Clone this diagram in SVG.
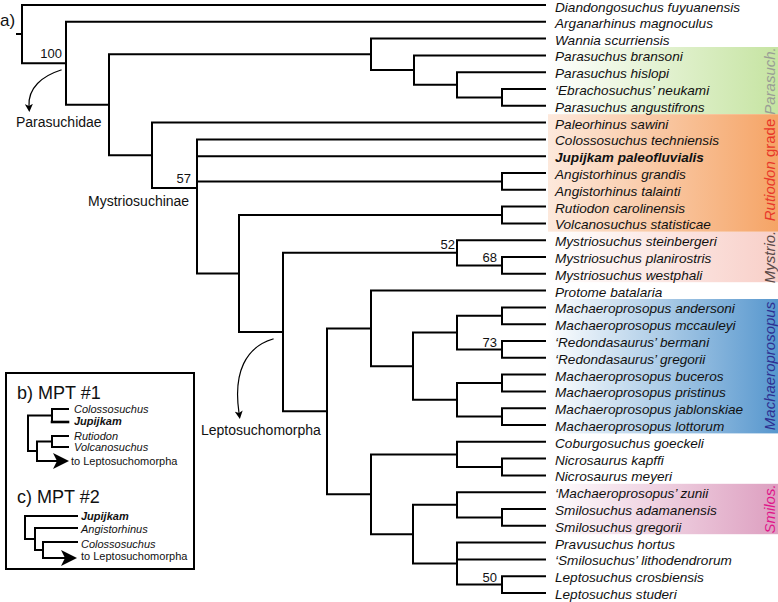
<svg xmlns="http://www.w3.org/2000/svg" width="778" height="602" viewBox="0 0 778 602">
<style>
.br{stroke:#000;stroke-width:2;fill:none;stroke-linecap:square}
.thin{stroke:#000;stroke-width:1.2;fill:none}
.tx{font-family:"Liberation Sans",Arial,sans-serif;font-size:13.6px;font-style:italic;fill:#111}
.bd{font-weight:bold}
.sp{font-family:"Liberation Sans",Arial,sans-serif;font-size:13px;fill:#111;text-anchor:end}
.lb{font-family:"Liberation Sans",Arial,sans-serif;font-size:14px;fill:#111}
.it{font-family:"Liberation Sans",Arial,sans-serif;font-size:11px;font-style:italic;fill:#111}
.up{font-family:"Liberation Sans",Arial,sans-serif;font-size:11px;fill:#111}
.hd{font-family:"Liberation Sans",Arial,sans-serif;font-size:18px;fill:#111}
.cl{font-family:"Liberation Sans",Arial,sans-serif;font-size:15px;font-style:italic;text-anchor:middle}
</style>
<defs>
<linearGradient id="gG" x1="0" x2="1" y1="0" y2="0"><stop offset="0" stop-color="#ffffff"/><stop offset="1" stop-color="#c6e4a2"/></linearGradient>
<linearGradient id="gO" x1="0" x2="1" y1="0" y2="0"><stop offset="0" stop-color="#fde9dc"/><stop offset="1" stop-color="#f5a466"/></linearGradient>
<linearGradient id="gP" x1="0" x2="1" y1="0" y2="0"><stop offset="0" stop-color="#ffffff"/><stop offset="1" stop-color="#f8cfc8"/></linearGradient>
<linearGradient id="gB" x1="0" x2="1" y1="0" y2="0"><stop offset="0" stop-color="#ffffff"/><stop offset="1" stop-color="#5797ce"/></linearGradient>
<linearGradient id="gS" x1="0" x2="1" y1="0" y2="0"><stop offset="0" stop-color="#ffffff"/><stop offset="1" stop-color="#dd9fc0"/></linearGradient>
<marker id="big" viewBox="0 0 16 16" refX="4" refY="8" markerWidth="16" markerHeight="16" markerUnits="userSpaceOnUse" orient="auto"><path d="M16,8 L0,0 L4,8 L0,16 Z" fill="#000"/></marker>
<marker id="sm" viewBox="0 0 8 8" refX="2" refY="4" markerWidth="8" markerHeight="8" markerUnits="userSpaceOnUse" orient="auto"><path d="M8,4 L0,0 L2,4 L0,8 Z" fill="#000"/></marker>
</defs>
<rect width="778" height="602" fill="#fff"/>

<!-- clade boxes -->
<g id="clades">
<rect x="548" y="47" width="230" height="67.2" fill="url(#gG)"/>
<rect x="548" y="114.2" width="230" height="117.6" fill="url(#gO)"/>
<rect x="548" y="231.8" width="230" height="50.4" fill="url(#gP)"/>
<rect x="548" y="299" width="230" height="134.4" fill="url(#gB)"/>
<rect x="548" y="483.8" width="230" height="50.4" fill="url(#gS)"/>
<text class="cl" transform="translate(775,81) rotate(-90)" fill="#9a9d96">Parasuch.</text>
<text class="cl" transform="translate(775,170) rotate(-90)" fill="#e8382a">Rutiodon<tspan font-style="normal"> grade</tspan></text>
<text class="cl" transform="translate(775,257) rotate(-90)" fill="#5a4a48">Mystrio.</text>
<text class="cl" transform="translate(775,366) rotate(-90)" fill="#2e3192">Machaeroprosopus</text>
<text class="cl" transform="translate(775,509) rotate(-90)" fill="#e0168a">Smilos.</text>
</g>

<g id="connectors" class="br">
<path d="M17,34 H22 M22,5 V63.3 M22,5 H545 M22,63.3 H66"/>
<path d="M66,21.8 V104.8 M66,21.8 H545 M66,104.8 H109"/>
<path d="M109,54.35 V155.3 M109,54.35 H371 M109,155.3 H152"/>
<path d="M371,38.6 V70.1 M371,38.6 H545 M371,70.1 H414"/>
<path d="M414,55.4 V84.8 M414,55.4 H545 M414,84.8 H457"/>
<path d="M457,72.2 V97.4 M457,72.2 H545 M457,97.4 H502"/>
<path d="M502,89 V105.8 M502,89 H545 M502,105.8 H545"/>
<path d="M152,122.6 V188 M152,122.6 H545 M152,188 H197"/>
<path d="M197,139.4 V273.5 M197,139.4 H545 M197,156.2 H545 M197,181.4 H502 M197,273.5 H239"/>
<path d="M502,173 V189.8 M502,173 H545 M502,189.8 H545"/>
<path d="M239,215 V332 M239,215 H502 M239,332 H283"/>
<path d="M502,206.6 V223.4 M502,206.6 H545 M502,223.4 H545"/>
<path d="M283,252.8 V411.35 M283,252.8 H457 M283,411.35 H327"/>
<path d="M457,240.2 V265.4 M457,240.2 H545 M457,265.4 H502"/>
<path d="M502,257 V273.8 M502,257 H545 M502,273.8 H545"/>
<path d="M327,328.4 V494.3 M327,328.4 H371 M327,494.3 H371"/>
<path d="M371,290.6 V366.2 M371,290.6 H545 M371,366.2 H413"/>
<path d="M413,332.6 V399.8 M413,332.6 H457 M413,399.8 H457"/>
<path d="M457,315.8 V349.4 M457,315.8 H502 M457,349.4 H502"/>
<path d="M502,307.4 V324.2 M502,307.4 H545 M502,324.2 H545"/>
<path d="M502,341 V357.8 M502,341 H545 M502,357.8 H545"/>
<path d="M457,383 V416.6 M457,383 H502 M457,416.6 H502"/>
<path d="M502,374.6 V391.4 M502,374.6 H545 M502,391.4 H545"/>
<path d="M502,408.2 V425 M502,408.2 H545 M502,425 H545"/>
<path d="M371,454.4 V534.2 M371,454.4 H457 M371,534.2 H413"/>
<path d="M457,441.8 V467 M457,441.8 H545 M457,467 H502"/>
<path d="M502,458.6 V475.4 M502,458.6 H545 M502,475.4 H545"/>
<path d="M413,504.8 V563.6 M413,504.8 H457 M413,563.6 H457"/>
<path d="M457,492.2 V517.4 M457,492.2 H545 M457,517.4 H502"/>
<path d="M502,509 V525.8 M502,509 H545 M502,525.8 H545"/>
<path d="M457,542.6 V584.6 M457,542.6 H545 M457,559.4 H545 M457,584.6 H502"/>
<path d="M502,576.2 V593 M502,576.2 H545 M502,593 H545"/>
<path class="thin" d="M61,70 C42,76 28,88 29,106" marker-end="url(#sm)"/>
<path class="thin" d="M273,339 C246,347 233,372 239,413" marker-end="url(#sm)"/>
</g>

<g id="support">
<text class="sp" x="62" y="58">100</text>
<text class="sp" x="191" y="183">57</text>
<text class="sp" x="455" y="249">52</text>
<text class="sp" x="497" y="262">68</text>
<text class="sp" x="497" y="347">73</text>
<text class="sp" x="497" y="582">50</text>
</g>

<g id="clade-names">
<text class="hd" x="0" y="26" style="font-size:17px">a)</text>
<text id="Parasuchidae" class="lb" x="16" y="127">Parasuchidae</text>
<text id="Mystriosuchinae" class="lb" x="88" y="206">Mystriosuchinae</text>
<text id="Leptosuchomorpha" class="lb" x="201" y="435">Leptosuchomorpha</text>
</g>

<g id="taxa" class="tx">
<g id="t0"><text x="555" y="12.4">Diandongosuchus fuyuanensis</text></g>
<g id="t1"><text x="555" y="27.8">Arganarhinus magnoculus</text></g>
<g id="t2"><text x="555" y="44.6">Wannia scurriensis</text></g>
<g id="t3"><text x="555" y="61.4">Parasuchus bransoni</text></g>
<g id="t4"><text x="555" y="78.2">Parasuchus hislopi</text></g>
<g id="t5"><text x="555" y="95">‘Ebrachosuchus’ neukami</text></g>
<g id="t6"><text x="555" y="111.8">Parasuchus angustifrons</text></g>
<g id="t7"><text x="555" y="128.6">Paleorhinus sawini</text></g>
<g id="t8"><text x="555" y="145.4">Colossosuchus techniensis</text></g>
<g id="t9"><text class="bd" x="555" y="162.2">Jupijkam paleofluvialis</text></g>
<g id="t10"><text x="555" y="179">Angistorhinus grandis</text></g>
<g id="t11"><text x="555" y="195.8">Angistorhinus talainti</text></g>
<g id="t12"><text x="555" y="212.6">Rutiodon carolinensis</text></g>
<g id="t13"><text x="555" y="229.4">Volcanosuchus statisticae</text></g>
<g id="t14"><text x="555" y="246.2">Mystriosuchus steinbergeri</text></g>
<g id="t15"><text x="555" y="263">Mystriosuchus planirostris</text></g>
<g id="t16"><text x="555" y="279.8">Mystriosuchus westphali</text></g>
<g id="t17"><text x="555" y="296.6">Protome batalaria</text></g>
<g id="t18"><text x="555" y="313.4">Machaeroprosopus andersoni</text></g>
<g id="t19"><text x="555" y="330.2">Machaeroprosopus mccauleyi</text></g>
<g id="t20"><text x="555" y="347">‘Redondasaurus’ bermani</text></g>
<g id="t21"><text x="555" y="363.8">‘Redondasaurus’ gregorii</text></g>
<g id="t22"><text x="555" y="380.6">Machaeroprosopus buceros</text></g>
<g id="t23"><text x="555" y="397.4">Machaeroprosopus pristinus</text></g>
<g id="t24"><text x="555" y="414.2">Machaeroprosopus jablonskiae</text></g>
<g id="t25"><text x="555" y="431">Machaeroprosopus lottorum</text></g>
<g id="t26"><text x="555" y="447.8">Coburgosuchus goeckeli</text></g>
<g id="t27"><text x="555" y="464.6">Nicrosaurus kapffi</text></g>
<g id="t28"><text x="555" y="481.4">Nicrosaurus meyeri</text></g>
<g id="t29"><text x="555" y="498.2">‘Machaeroprosopus’ zunii</text></g>
<g id="t30"><text x="555" y="515">Smilosuchus adamanensis</text></g>
<g id="t31"><text x="555" y="531.8">Smilosuchus gregorii</text></g>
<g id="t32"><text x="555" y="548.6">Pravusuchus hortus</text></g>
<g id="t33"><text x="555" y="565.4">‘Smilosuchus’ lithodendrorum</text></g>
<g id="t34"><text x="555" y="582.2">Leptosuchus crosbiensis</text></g>
<g id="t35"><text x="555" y="598.6">Leptosuchus studeri</text></g>
</g>

<g id="inset">
<rect x="6" y="373" width="188" height="196" fill="#fff" stroke="#000" stroke-width="2"/>
<text class="hd" x="17" y="399">b) MPT #1</text>
<g class="br">
<path d="M52,409 V422 M52,409 H68"/>
<path d="M52,422 H68" stroke-width="2.6"/>
<path d="M28,415.5 H52 M28,415.5 V451 M28,451 H37"/>
<path d="M37,441.5 V461 M37,441.5 H52 M52,436 V447 M52,436 H68 M52,447 H68"/>
<path d="M37,461 H57" stroke-linecap="butt" marker-end="url(#big)"/>
</g>
<text class="it" x="74" y="413">Colossosuchus</text>
<text class="it bd" x="74" y="425">Jupijkam</text>
<text class="it" x="74" y="440">Rutiodon</text>
<text class="it" x="74" y="451">Volcanosuchus</text>
<text class="up" x="71" y="465">to Leptosuchomorpha</text>

<text class="hd" x="17" y="503">c) MPT #2</text>
<g class="br">
<path d="M25,516 V539 M25,516 H77 M25,539 H35"/>
<path d="M35,528 V550 M35,528 H77 M35,550 H43"/>
<path d="M43,542 V558 M43,542 H77"/>
<path d="M43,558 H65" stroke-linecap="butt" marker-end="url(#big)"/>
</g>
<text class="it bd" x="81" y="520">Jupijkam</text>
<text class="it" x="81" y="533">Angistorhinus</text>
<text class="it" x="81" y="548">Colossosuchus</text>
<text class="up" x="81" y="560">to Leptosuchomorpha</text>
</g>
</svg>
